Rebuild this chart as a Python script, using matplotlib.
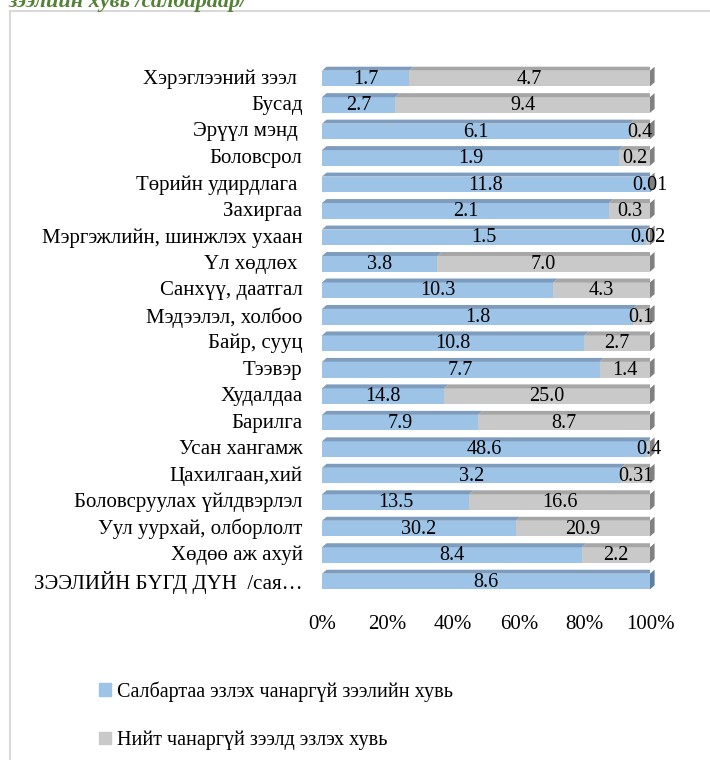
import matplotlib
matplotlib.use("Agg")
import matplotlib.pyplot as plt
from matplotlib.patches import Polygon, Rectangle
import numpy as np

plt.rcParams['font.family'] = ['Liberation Serif', 'DejaVu Serif']

# Салбарууд (дээрээс доош)
categories = [
    "Хэрэглээний зээл ", "Бусад", "Эрүүл мэнд ", "Боловсрол",
    "Төрийн удирдлага ", "Захиргаа", "Мэргэжлийн, шинжлэх ухаан",
    "Үл хөдлөх ", "Санхүү, даатгал", "Мэдээлэл, холбоо", "Байр, сууц",
    "Тээвэр", "Худалдаа", "Барилга", "Усан хангамж", "Цахилгаан,хий",
    "Боловсруулах үйлдвэрлэл", "Уул уурхай, олборлолт", "Хөдөө аж ахуй",
    "ЗЭЭЛИЙН БҮГД ДҮН  /сая…",
]
share_in_sector = [1.7, 2.7, 6.1, 1.9, 11.8, 2.1, 1.5, 3.8, 10.3, 1.8, 10.8,
                   7.7, 14.8, 7.9, 48.6, 3.2, 13.5, 30.2, 8.4, 8.6]
share_in_total = [4.7, 9.4, 0.4, 0.2, 0.01, 0.3, 0.02, 7.0, 4.3, 0.1, 2.7,
                  1.4, 25.0, 8.7, 0.4, 0.31, 16.6, 20.9, 2.2, 0.0]
series_names = ["Салбартаа эзлэх чанаргүй зээлийн хувь",
                "Нийт чанаргүй зээлд эзлэх хувь"]

blue, blue_top = '#9DC3E6', '#7E9DBE'
gray, gray_top = '#C9C9C9', '#A6A6A6'
side_col = '#808080'


def fmt(v):
    return f"{v:.2f}" if round(v, 1) != v else f"{v:.1f}"


fig = plt.figure(figsize=(7.1, 7.6), dpi=100)
ax = fig.add_axes([322 / 710, 1 - 592.75 / 760, 328 / 710, (592.75 - 63.25) / 760])

n = len(categories)
y = np.arange(n)[::-1]
a = np.array(share_in_sector)
b = np.array(share_in_total)
tot = a + b
pa = a / tot * 100
pb = b / tot * 100

h_low, h_mid, h_top = 0.37, 0.22, 0.37   # низ, дээд ирмэг
dx = 1.4

for i in range(n):
    yc = y[i]
    segs = [(0, pa[i], blue, blue_top, a[i]), (pa[i], pb[i], gray, gray_top, b[i])]
    for left, w, c, ct, v in segs:
        if w <= 0:
            continue
        ax.barh(yc - (h_low - h_mid) / 2, w, left=left, height=h_low + h_mid,
                color=c, linewidth=0)
        ax.add_patch(Polygon([(left, yc + h_mid), (left + w, yc + h_mid),
                              (left + w + dx, yc + h_top), (left + dx, yc + h_top)],
                             closed=True, color=ct, linewidth=0))
        ax.text(left + w / 2, yc - 0.1, fmt(v), ha='center', va='center',
                fontsize=14.5, color='#000000', zorder=5)
    # боковая грань
    last = '#5F7F9F' if b[i] == 0 else side_col
    ax.add_patch(Polygon([(100, yc - h_low), (100 + dx, yc - h_low + 0.15),
                          (100 + dx, yc + h_top), (100, yc + h_mid)],
                         closed=True, color=last, linewidth=0, zorder=3,
                         clip_on=False))

ax.set_xlim(0, 100)
ax.set_ylim(-0.5, n - 0.5)
ax.set_xticks(np.arange(0, 101, 20))
ax.set_xticklabels([f"{t}%" for t in range(0, 101, 20)], fontsize=15)
ax.set_yticks(y)
ax.set_yticklabels(categories, fontsize=15)
ax.tick_params(axis='both', length=0)
ax.tick_params(axis='x', pad=16)
ax.tick_params(axis='y', pad=14)
for s in ax.spines.values():
    s.set_visible(False)

# рамка диаграммы
fig.add_artist(Rectangle((9.5 / 710, -0.1), 1.2, 1 - 10.5 / 760 + 0.1,
                         transform=fig.transFigure, fill=False,
                         edgecolor='#D9D9D9', linewidth=1.5))

# обрезанный заголовок сверху
fig.text(8 / 710, 1 - 6.5 / 760, "зээлийн хувь /салбараар/", fontsize=16,
         fontweight='bold', fontstyle='italic', color='#538135',
         ha='left', va='baseline')

handles = [Rectangle((0, 0), 1, 1, color=blue), Rectangle((0, 0), 1, 1, color=gray)]
fig.legend(handles, series_names, loc='upper left',
           bbox_to_anchor=(99 / 710, 1 - 681 / 760), frameon=False,
           fontsize=14.5, handlelength=0.6, handleheight=0.6,
           handletextpad=0.3, labelspacing=1.45, borderpad=0, borderaxespad=0)

fig.savefig("out.png", dpi=100)
